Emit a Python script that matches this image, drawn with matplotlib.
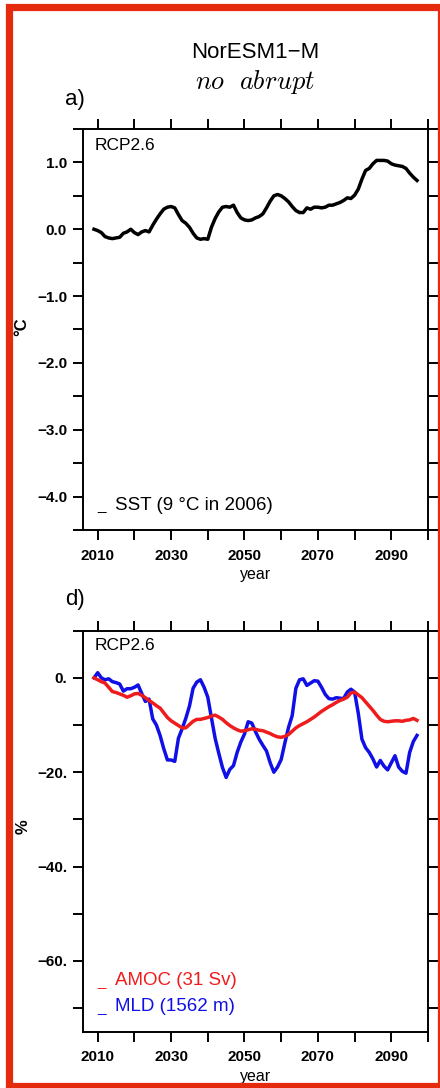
import matplotlib
matplotlib.use("Agg")
import matplotlib.pyplot as plt
import numpy as np
from matplotlib.patches import Rectangle

plt.rcParams['font.family'] = ['Liberation Sans', 'DejaVu Sans']
plt.rcParams['mathtext.fontset'] = 'cm'

years = np.arange(2009, 2098)

# SST anomaly (degC), 2009-2097
sst = [0.00, -0.02, -0.05, -0.11, -0.13, -0.14, -0.13, -0.12, -0.06, -0.04,
       0.00, -0.05, -0.08, -0.04, -0.02, -0.04, 0.06, 0.15, 0.23, 0.30,
       0.33, 0.34, 0.32, 0.22, 0.13, 0.09, 0.03, -0.06, -0.13, -0.15,
       -0.14, -0.15, 0.03, 0.16, 0.26, 0.33, 0.34, 0.33, 0.36, 0.25,
       0.17, 0.14, 0.13, 0.14, 0.17, 0.19, 0.23, 0.32, 0.42, 0.50,
       0.52, 0.50, 0.46, 0.41, 0.34, 0.28, 0.25, 0.25, 0.32, 0.30,
       0.33, 0.33, 0.32, 0.33, 0.36, 0.36, 0.38, 0.40, 0.43, 0.47,
       0.46, 0.51, 0.60, 0.75, 0.88, 0.91, 0.98, 1.03, 1.03, 1.03,
       1.02, 0.98, 0.96, 0.95, 0.94, 0.91, 0.84, 0.78, 0.73]

# AMOC change (%), 2009-2097
amoc = [0.0, -0.4, -0.8, -1.1, -2.0, -2.9, -3.1, -3.4, -3.7, -4.1,
        -3.8, -3.4, -3.3, -3.7, -4.2, -4.8, -5.3, -5.9, -6.4, -7.4,
        -8.4, -9.1, -9.6, -10.1, -10.6, -10.6, -9.9, -9.2, -8.8, -8.8,
        -8.6, -8.4, -8.1, -7.9, -8.3, -8.8, -9.5, -10.1, -10.6, -11.0,
        -11.3, -11.2, -11.0, -10.8, -10.9, -11.1, -11.2, -11.5, -11.8, -12.2,
        -12.5, -12.6, -12.4, -12.0, -11.3, -10.6, -10.1, -9.7, -9.3, -8.8,
        -8.3, -7.7, -7.1, -6.6, -6.1, -5.7, -5.2, -4.8, -4.5, -4.1,
        -3.2, -3.0, -3.6, -4.2, -5.1, -6.0, -6.9, -7.9, -8.8, -9.2,
        -9.3, -9.2, -9.1, -9.1, -9.2, -9.0, -8.9, -8.6, -9.0]

# mixed layer depth change (%), 2009-2097
mld = [0.0, 1.1, 0.0, -0.4, -0.2, -0.8, -1.0, -1.3, -2.8, -2.3,
       -2.3, -2.0, -1.5, -3.3, -5.0, -4.5, -8.7, -10.0, -12.2, -15.0,
       -17.4, -17.4, -17.7, -12.8, -10.8, -8.6, -6.0, -2.2, -0.9, -0.4,
       -2.0, -4.1, -8.5, -12.8, -16.0, -19.0, -21.1, -19.4, -18.6, -15.8,
       -13.6, -11.9, -9.3, -9.6, -11.4, -13.0, -14.3, -15.5, -18.0, -20.0,
       -18.9, -17.3, -13.8, -10.5, -8.0, -2.2, -0.4, -0.2, -1.6, -1.1,
       -0.6, -0.7, -2.0, -3.5, -4.4, -4.5, -4.2, -4.3, -4.4, -3.0,
       -2.4, -3.0, -7.5, -13.0, -14.8, -15.8, -17.2, -18.9, -17.5, -18.7,
       -19.5, -18.0, -16.5, -18.9, -19.8, -20.2, -15.8, -13.5, -12.2]

xticks = np.arange(2010, 2101, 10)
xlabels = ['2010', '', '2030', '', '2050', '', '2070', '', '2090', '']
yticks_a = np.arange(-4.5, 1.51, 0.5)
ylabels_a = ['', '\u22124.0', '', '\u22123.0', '', '\u22122.0', '', '\u22121.0',
             '', '0.0', '', '1.0', '']
yticks_d = np.arange(-70, 11, 10)
ylabels_d = ['', '\u221260.', '', '\u221240.', '', '\u221220.', '', '0.', '']

W, H = 440, 1088
fig = plt.figure(figsize=(W / 100, H / 100), dpi=100)


def frame(ax, yt, yl, ylim):
    ax.set_xlim(2006, 2100)
    ax.set_ylim(*ylim)
    ax.set_xticks(xticks)
    ax.set_xticklabels(xlabels, fontsize=11, fontweight='bold')
    ax.set_yticks(yt)
    ax.set_yticklabels(yl, fontsize=11, fontweight='bold')
    ax.tick_params(direction='out', length=7.5, width=1.4, pad=4,
                   top=True, right=True, colors='black')
    ax.tick_params(axis='x', pad=6)
    for s in ax.spines.values():
        s.set_linewidth(1.4)
    ax.set_xlabel('year', fontsize=11.5, labelpad=3)


def box(top, bottom):
    return [83 / W, 1 - bottom / H, 345 / W, (bottom - top) / H]


# panel a: SST
ax1 = fig.add_axes(box(129, 530))
ax1.plot(years, sst, color='black', lw=2.5)
frame(ax1, yticks_a, ylabels_a, (-4.5, 1.5))
ax1.text(0.035, 0.96, 'RCP2.6', transform=ax1.transAxes, fontsize=12.5,
         va='center', ha='left')
ax1.text(0.04, 0.05, '_', transform=ax1.transAxes, fontsize=11,
         va='baseline', ha='left')
ax1.text(0.093, 0.062, 'SST (9 \u00b0C in 2006)', transform=ax1.transAxes,
         fontsize=13.5, va='center', ha='left')

# panel d: AMOC and MLD
ax2 = fig.add_axes(box(630.7, 1031.7))
ax2.plot(years, mld, color='#1010e6', lw=2.5)
ax2.plot(years, amoc, color='#ee1c1c', lw=2.5)
frame(ax2, yticks_d, ylabels_d, (-75, 10))
ax2.text(0.035, 0.964, 'RCP2.6', transform=ax2.transAxes, fontsize=12.5,
         va='center', ha='left')
for yy, txt, c in [(0.127, 'AMOC (31 Sv)', '#ee1c1c'),
                   (0.062, 'MLD (1562 m)', '#1010e6')]:
    ax2.text(0.04, yy - 0.012, '_', transform=ax2.transAxes, fontsize=11,
             va='baseline', ha='left', color=c)
    ax2.text(0.093, yy, txt, transform=ax2.transAxes, fontsize=13.5,
             va='center', ha='left', color=c)

# titles, panel letters and y labels
fig.text(255 / W, 1 - 53 / H, 'NorESM1\u2212M', fontsize=16, ha='center',
         va='center')
fig.text(255 / W, 1 - 82 / H, r'$no\ \ abrupt$', fontsize=19, ha='center',
         va='center')
fig.text(75 / W, 1 - 99 / H, 'a)', fontsize=16, ha='center', va='center')
fig.text(75 / W, 1 - 600 / H, 'd)', fontsize=16, ha='center', va='center')
fig.text(22 / W, 1 - 327 / H, '\u00b0C', fontsize=12, fontweight='bold',
         rotation=90, ha='center', va='center')
fig.text(23 / W, 1 - 827 / H, '%', fontsize=12, fontweight='bold',
         rotation=90, ha='center', va='center')

# red frame around the whole figure
fig.patches.append(Rectangle((9 / W, 1 - 1085.5 / H), (441 - 9) / W,
                             (1085.5 - 6.7) / H, transform=fig.transFigure,
                             fill=False, edgecolor='#e62a0d', lw=5.2,
                             zorder=10))

fig.savefig('out.png', dpi=100, facecolor='white')
